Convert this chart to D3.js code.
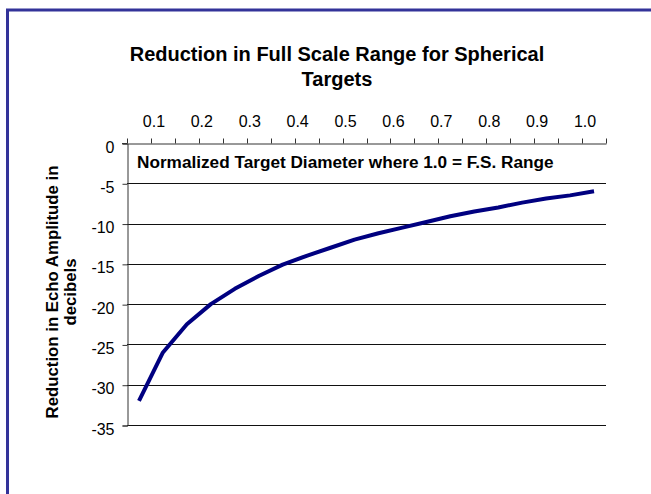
<!DOCTYPE html>
<html><head><meta charset="utf-8">
<script src="https://cdn.jsdelivr.net/npm/d3@7/dist/d3.min.js"></script>
<style>body{margin:0;background:#fff}svg{display:block}text{font-family:"Liberation Sans",Arial,sans-serif}</style>
</head><body><svg id="c" width="651" height="494"></svg>
<script>
const categories = ["0.05","0.1","0.15","0.2","0.25","0.3","0.35","0.4","0.45","0.5","0.55","0.6","0.65","0.7","0.75","0.8","0.85","0.9","0.95","1.0"];
const reduction = [-32.0,-26.0,-22.5,-20.0,-18.1,-16.5,-15.1,-14.0,-13.0,-12.0,-11.2,-10.5,-9.8,-9.1,-8.5,-8.0,-7.4,-6.9,-6.5,-6.0];
const xTickLabels = ["0.1","0.2","0.3","0.4","0.5","0.6","0.7","0.8","0.9","1.0"];
const yTicks = [0,-5,-10,-15,-20,-25,-30,-35];
const title = ["Reduction in Full Scale Range for Spherical","Targets"];
const yTitle = ["Reduction in Echo Amplitude in","decibels"];
const innerLabel = "Normalized Target Diameter where 1.0 = F.S. Range";

const svg = d3.select("#c");
const L = 127, R = 606, T = 143, B = 425;
const x = d3.scaleBand().domain(categories).range([L, R]);
const y = d3.scaleLinear().domain([-35, 0]).range([B, T]);
const FONT = '"Liberation Sans",Arial,sans-serif';

// border
svg.append("rect").attr("x", 7.5).attr("y", 10).attr("width", 700).attr("height", 600)
  .attr("fill", "none").attr("stroke", "#333399").attr("stroke-width", 3);

// title
svg.append("text").attr("x", 337).attr("y", 61).attr("text-anchor", "middle")
  .attr("font-size", 20).attr("font-weight", "bold").selectAll("tspan").data(title).join("tspan")
  .attr("x", 337).attr("dy", (d, i) => i ? 25 : 0).text(d => d);

// gridlines
svg.append("g").selectAll("line").data(yTicks.filter(d => d !== 0)).join("line")
  .attr("x1", L).attr("x2", R).attr("y1", d => Math.round(y(d)) + 0.5).attr("y2", d => Math.round(y(d)) + 0.5)
  .attr("stroke", "#111").attr("stroke-width", 1);

// y axis
const yAxis = svg.append("g").attr("transform", `translate(${L + 0.5},0.5)`)
  .call(d3.axisLeft(y).tickValues(yTicks).tickSize(5).tickPadding(8).tickFormat(d => String(d)));
yAxis.select(".domain").attr("stroke", "#333");
yAxis.selectAll(".tick line").attr("stroke", "#333");
yAxis.selectAll("text").attr("font-size", 16).attr("fill", "#000").attr("font-family", FONT)
  .attr("dy", "0.35em").attr("y", 3);

// x axis on top (0 line)
const xAxis = svg.append("g").attr("transform", `translate(0,${Math.round(y(0)) + 0.5})`)
  .call(d3.axisTop(x).tickSize(0).tickFormat(""));
xAxis.select(".domain").attr("stroke", "#333");
xAxis.append("g").selectAll("line").data(categories.concat(["end"])).join("line")
  .attr("x1", (d, i) => Math.round(i < categories.length ? x(d) : R) + 0.5)
  .attr("x2", (d, i) => Math.round(i < categories.length ? x(d) : R) + 0.5)
  .attr("y1", 0).attr("y2", -5).attr("stroke", "#333");
xAxis.append("line").attr("x1", L - 5).attr("x2", L).attr("stroke", "#333");
xAxis.append("g").selectAll("text").data(xTickLabels).join("text")
  .attr("x", d => x(d) + 3).attr("y", -17).attr("text-anchor", "middle")
  .attr("font-size", 16).attr("fill", "#000").attr("font-family", FONT).text(d => d);

// inner label
svg.append("text").attr("x", 137).attr("y", 168).attr("font-size", 17.2).attr("font-weight", "bold").text(innerLabel);

// y title
const yt = svg.append("text").attr("transform", "translate(58,292) rotate(-90)").attr("text-anchor", "middle")
  .attr("font-size", 16.8).attr("font-weight", "bold");
yt.selectAll("tspan").data(yTitle).join("tspan").attr("x", 0).attr("dy", (d, i) => i ? 18 : 0).text(d => d);

// line
const line = d3.line().x((d, i) => x(categories[i]) + x.bandwidth() / 2).y(d => y(d));
svg.append("path").datum(reduction).attr("d", line).attr("fill", "none")
  .attr("stroke", "#000080").attr("stroke-width", 4).attr("stroke-linejoin", "round");
</script></body></html>
